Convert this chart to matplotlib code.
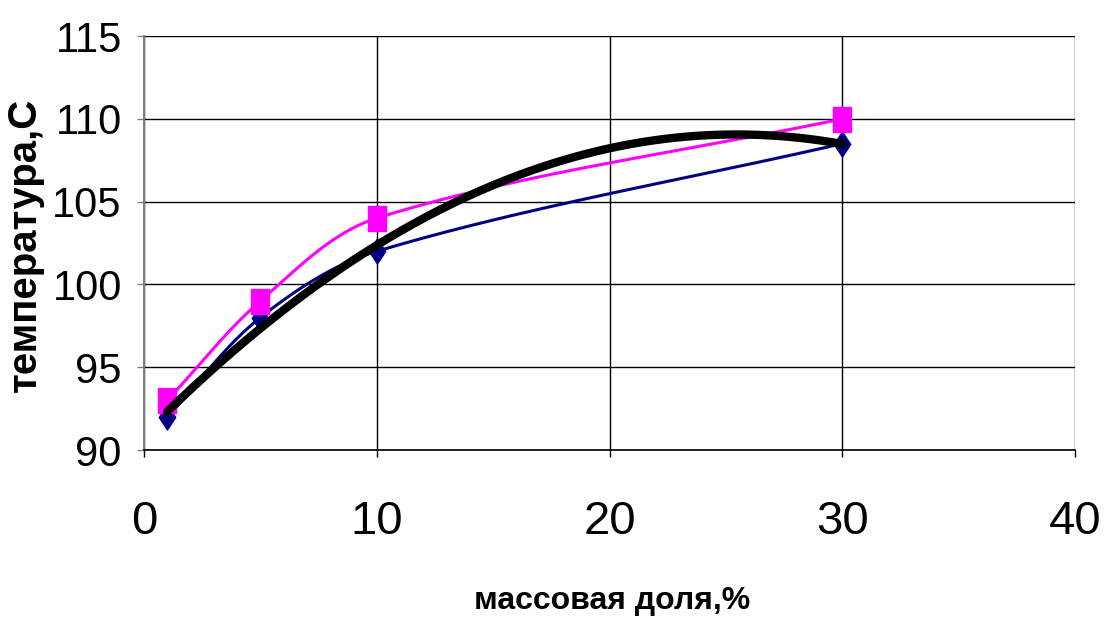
import numpy as np
import matplotlib
matplotlib.use("Agg")
import matplotlib.pyplot as plt
from matplotlib.path import Path

x_vals = [1, 5, 10, 30]
series_navy = [92, 98, 102, 108.5]
series_magenta = [93, 99, 104, 110]
x_ticks = [0, 10, 20, 30, 40]
y_ticks = [90, 95, 100, 105, 110, 115]
x_label = "массовая доля,%"
y_label = "температура,С"

plt.rcParams['font.family'] = ['Liberation Sans', 'DejaVu Sans']

fig = plt.figure(figsize=(11.05, 6.24), dpi=100)
ax = fig.add_axes([144/1105, 1-450/624, (1075-144)/1105, (450-36)/624])
ax.set_xlim(0, 40)
ax.set_ylim(90, 115)


def smooth(xs, ys, ax, n=60, k=0.33):
    # smoothed curve: cubic Bezier, tangent from neighbours, handle length scaled by segment length
    P = ax.transData.transform(np.column_stack([xs, ys]))
    m = len(P)
    T = []
    for i in range(m):
        a = P[i - 1] if i > 0 else P[i]
        b = P[i + 1] if i + 1 < m else P[i]
        d = b - a
        T.append(d / np.hypot(*d))
    out = []
    for i in range(m - 1):
        p1, p2 = P[i], P[i + 1]
        L = np.hypot(*(p2 - p1))
        c1 = p1 + T[i] * L * k
        c2 = p2 - T[i + 1] * L * k
        t = np.linspace(0, 1, n)[:, None]
        seg = (1 - t) ** 3 * p1 + 3 * (1 - t) ** 2 * t * c1 + 3 * (1 - t) * t ** 2 * c2 + t ** 3 * p2
        out.append(seg if i == 0 else seg[1:])
    pts = np.vstack(out)
    d = ax.transData.inverted().transform(pts)
    return d[:, 0], d[:, 1]


sq = Path([(-0.72, -1), (0.72, -1), (0.72, 1), (-0.72, 1), (-0.72, -1)],
          [Path.MOVETO, Path.LINETO, Path.LINETO, Path.LINETO, Path.CLOSEPOLY])
dia = Path([(0, -1), (0.66, 0), (0, 1), (-0.66, 0), (0, -1)],
           [Path.MOVETO, Path.LINETO, Path.LINETO, Path.LINETO, Path.CLOSEPOLY])

sx, sy = smooth(x_vals, series_navy, ax)
ax.plot(sx, sy, color='#000080', lw=2.2, zorder=3)
ax.plot(x_vals, series_navy, ls='none', marker=dia, ms=18, color='#000080', zorder=4)

mx, my = smooth(x_vals, series_magenta, ax)
ax.plot(mx, my, color='#FF00FF', lw=2.2, zorder=3)
ax.plot(x_vals, series_magenta, ls='none', marker=sq, ms=18, color='#FF00FF', zorder=4)

coef = np.polyfit(x_vals, series_navy, 2)
tx = np.linspace(x_vals[0], x_vals[-1], 200)
ax.plot(tx, np.polyval(coef, tx), color='black', lw=6, zorder=5, solid_capstyle='round')

ax.set_xticks(x_ticks)
ax.set_yticks(y_ticks)
ax.grid(True, color='black', lw=1.0)
ax.set_axisbelow(True)
for s in ['top', 'right']:
    ax.spines[s].set_visible(False)
ax.spines['left'].set_color('#808080')
ax.spines['left'].set_linewidth(1.5)
ax.spines['bottom'].set_color('black')
ax.spines['bottom'].set_linewidth(1.2)
ax.tick_params(axis='y', direction='out', length=5, width=1, colors='black', labelsize=30, pad=11)
ax.tick_params(axis='x', direction='out', length=5, width=1, colors='black', labelsize=34, pad=31)
ax.yaxis.set_tick_params(color='#808080')

ax.set_xlabel(x_label, fontsize=23, fontweight='bold')
ax.set_ylabel(y_label, fontsize=29, fontweight='bold')
ax.xaxis.set_label_coords((612 - 144) / 931, (450 - 586) / 414)
ax.yaxis.set_label_coords((44 - 144) / 931, (450 - 245) / 414)

fig.savefig("out.png", dpi=100)
